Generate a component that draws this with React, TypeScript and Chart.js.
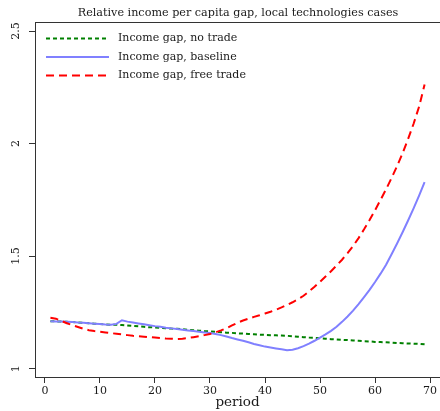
import React, { useEffect, useRef } from "react";
import { Chart, registerables } from "chart.js";
Chart.register(...registerables);

const periods = [
  1, 2, 3, 4, 5, 6, 7, 8, 9, 10, 11, 12, 13, 14, 15, 16, 17, 18, 19, 20,
  21, 22, 23, 24, 25, 26, 27, 28, 29, 30, 31, 32, 33, 34, 35, 36, 37, 38, 39, 40,
  41, 42, 43, 44, 45, 46, 47, 48, 49, 50, 51, 52, 53, 54, 55, 56, 57, 58, 59, 60,
  61, 62, 63, 64, 65, 66, 67, 68, 69,
];

const noTrade = [
  1.211, 1.21, 1.209, 1.208, 1.207, 1.205, 1.204, 1.202, 1.2, 1.198, 1.196, 1.195, 1.195, 1.194, 1.192, 1.19, 1.188, 1.186, 1.184, 1.183,
  1.181, 1.18, 1.178, 1.177, 1.175, 1.173, 1.171, 1.169, 1.167, 1.166, 1.164, 1.162, 1.16, 1.159, 1.157, 1.156, 1.154, 1.153, 1.151, 1.15,
  1.149, 1.148, 1.147, 1.146, 1.144, 1.142, 1.14, 1.138, 1.137, 1.135, 1.133, 1.131, 1.13, 1.128, 1.127, 1.125, 1.124, 1.122, 1.121, 1.119,
  1.118, 1.117, 1.116, 1.114, 1.113, 1.112, 1.111, 1.11, 1.108,
];

const baseline = [
  1.211, 1.21, 1.209, 1.208, 1.207, 1.205, 1.204, 1.202, 1.2, 1.198, 1.196, 1.195, 1.199, 1.215, 1.209, 1.205, 1.201, 1.197, 1.193, 1.189,
  1.186, 1.182, 1.179, 1.176, 1.173, 1.17, 1.167, 1.164, 1.161, 1.158, 1.154, 1.149, 1.143, 1.136, 1.13, 1.124, 1.117, 1.11, 1.104, 1.098,
  1.094, 1.09, 1.086, 1.082, 1.084, 1.091, 1.1, 1.111, 1.124, 1.138, 1.152, 1.168, 1.186, 1.208, 1.232, 1.258, 1.287, 1.318, 1.35, 1.385,
  1.422, 1.462, 1.508, 1.556, 1.606, 1.658, 1.712, 1.769, 1.829,
];

const freeTrade = [
  1.226, 1.222, 1.212, 1.202, 1.193, 1.185, 1.177, 1.171, 1.167, 1.164, 1.161, 1.158, 1.155, 1.152, 1.149, 1.146, 1.144, 1.142, 1.14, 1.138,
  1.136, 1.134, 1.133, 1.132, 1.133, 1.136, 1.14, 1.144, 1.149, 1.154, 1.161, 1.17, 1.18, 1.192, 1.204, 1.214, 1.222, 1.23, 1.237, 1.245,
  1.253, 1.262, 1.272, 1.283, 1.295, 1.308, 1.324, 1.343, 1.364, 1.386, 1.409, 1.433, 1.458, 1.484, 1.513, 1.545, 1.58, 1.619, 1.66, 1.704,
  1.75, 1.797, 1.847, 1.9, 1.957, 2.02, 2.088, 2.164, 2.262,
];

const xTickValues = [0, 10, 20, 30, 40, 50, 60, 70];
const yTickValues = [1, 1.5, 2, 2.5];
const yTickLabels = ["1", "1.5", "2", "2.5"];
const seriesLabels = ["Income gap, no trade", "Income gap, baseline", "Income gap, free trade"];
const titleText = "Relative income per capita gap, local technologies cases";
const xTitle = "period";

const FONT = "'DejaVu Serif', 'Liberation Serif', serif";
const TEXT = "#1a1a1a";
const AXIS = "#333333";

const overlayPlugin = {
  id: "overlay",
  afterDraw(chart: any) {
    const ctx = chart.ctx as CanvasRenderingContext2D;
    const area = chart.chartArea;
    ctx.save();
    ctx.strokeStyle = AXIS;
    ctx.lineWidth = 1;
    ctx.beginPath();
    ctx.moveTo(area.left, area.top + 0.5);
    ctx.lineTo(chart.width, area.top + 0.5);
    ctx.stroke();

    ctx.fillStyle = TEXT;
    ctx.font = `11.2px ${FONT}`;
    ctx.textAlign = "center";
    ctx.textBaseline = "middle";
    ctx.fillText(titleText, 238, 13);

    const ys = chart.scales.y;
    ctx.font = `11px ${FONT}`;
    yTickValues.forEach((v, i) => {
      const py = ys.getPixelForValue(v);
      ctx.save();
      ctx.translate(16.5, py);
      ctx.rotate(-Math.PI / 2);
      ctx.textAlign = "center";
      ctx.textBaseline = "middle";
      ctx.fillText(yTickLabels[i], 0, 0);
      ctx.restore();
    });

    const rows = [38.5, 57, 75.5];
    chart.data.datasets.forEach((ds: any, i: number) => {
      const y = rows[i];
      ctx.save();
      ctx.strokeStyle = ds.borderColor;
      ctx.lineWidth = ds.borderWidth;
      ctx.setLineDash(ds.borderDash || []);
      ctx.beginPath();
      ctx.moveTo(46, y);
      ctx.lineTo(109, y);
      ctx.stroke();
      ctx.restore();
      ctx.fillStyle = TEXT;
      ctx.font = `11px ${FONT}`;
      ctx.textAlign = "left";
      ctx.textBaseline = "middle";
      ctx.fillText(ds.label, 118, y);
    });
    ctx.restore();
  },
};

export default function App() {
  const ref = useRef<HTMLCanvasElement>(null);
  useEffect(() => {
    if (!ref.current) return;
    const chart = new Chart(ref.current, {
      type: "line",
      data: {
        labels: periods,
        datasets: [
          {
            label: seriesLabels[0],
            data: periods.map((p, i) => ({ x: p, y: noTrade[i] })),
            borderColor: "#008000",
            borderWidth: 2,
            borderDash: [4, 3],
            pointRadius: 0,
            order: 3,
          },
          {
            label: seriesLabels[1],
            data: periods.map((p, i) => ({ x: p, y: baseline[i] })),
            borderColor: "#8080ff",
            borderWidth: 2,
            pointRadius: 0,
            order: 2,
          },
          {
            label: seriesLabels[2],
            data: periods.map((p, i) => ({ x: p, y: freeTrade[i] })),
            borderColor: "#ff0000",
            borderWidth: 2,
            borderDash: [8, 5],
            pointRadius: 0,
            order: 1,
          },
        ],
      },
      options: {
        responsive: false,
        animation: false,
        layout: { padding: { top: 22, left: 0, right: 0, bottom: 0 } },
        plugins: { legend: { display: false }, title: { display: false }, tooltip: { enabled: false } },
        scales: {
          x: {
            type: "linear",
            min: -1.8,
            max: 71.8,
            afterBuildTicks: (s: any) => {
              s.ticks = xTickValues.map((v) => ({ value: v }));
            },
            afterFit: (s: any) => {
              s.height = 34;
            },
            grid: { display: true, drawOnChartArea: false, drawTicks: true, tickLength: 6, color: AXIS },
            border: { display: true, color: AXIS, width: 1 },
            ticks: {
              color: TEXT,
              font: { family: FONT, size: 11 },
              padding: 2,
              maxRotation: 0,
              autoSkip: false,
            },
            title: {
              display: true,
              text: xTitle,
              color: TEXT,
              font: { family: FONT, size: 13.5 },
              padding: { top: 0, bottom: 0 },
            },
          },
          y: {
            type: "linear",
            min: 0.963,
            max: 2.54,
            afterBuildTicks: (s: any) => {
              s.ticks = yTickValues.map((v) => ({ value: v }));
            },
            afterFit: (s: any) => {
              s.width = 35;
            },
            grid: { display: true, drawOnChartArea: false, drawTicks: true, tickLength: 6, color: AXIS },
            border: { display: true, color: AXIS, width: 1 },
            ticks: { display: false },
          },
        },
      },
      plugins: [overlayPlugin],
    });
    return () => chart.destroy();
  }, []);
  return (
    <div style={{ position: "fixed", left: 0, top: 0, width: 440, height: 411, background: "#fff" }}>
      <canvas ref={ref} width={440} height={411} />
    </div>
  );
}
